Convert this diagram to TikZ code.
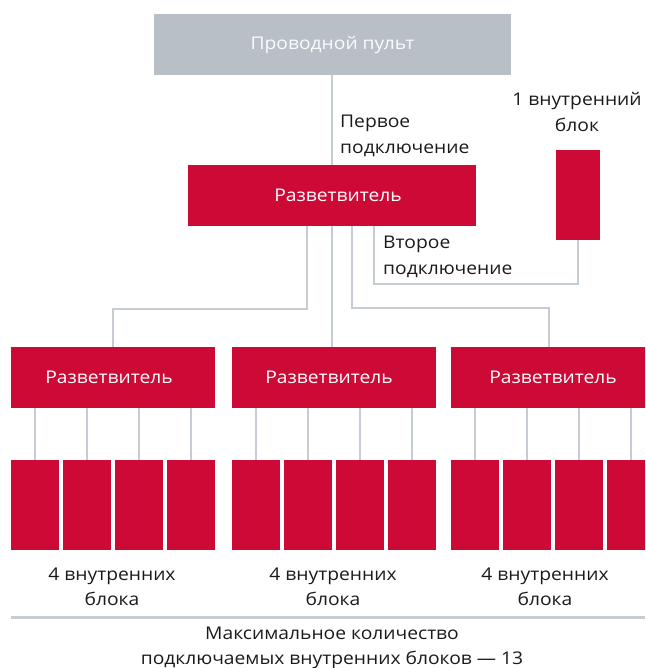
\documentclass[tikz,border=0pt]{standalone}
\usepackage{fontspec}
\setmainfont{Open Sans}[FakeStretch=1.1]
\usetikzlibrary{calc}
\definecolor{splitred}{HTML}{CC0A35}
\definecolor{boxgray}{HTML}{B8BFC7}
\definecolor{linegray}{HTML}{C5CCD3}
\definecolor{txt}{HTML}{1A1A1A}
\begin{document}
\begin{tikzpicture}[x=1pt,y=-1pt,
  lbl/.style={font=\fontsize{17.5}{25.5}\selectfont, text=txt, inner sep=0pt},
  redbox/.style={fill=splitred, draw=none, inner sep=0pt},
  splitbox/.style={redbox, minimum width=204pt, minimum height=61pt, text=white, font=\fontsize{17.5}{25.5}\selectfont},
  unitbox/.style={redbox, minimum width=48pt, minimum height=90pt},
  conn/.style={draw=linegray, line width=1.6pt}
]
\useasboundingbox (0,0) rectangle (645,668);
\clip (0,0) rectangle (645,668);

\node[minimum width=357pt, minimum height=61pt, fill=boxgray, inner sep=0pt, text=white!94!boxgray, font=\fontsize{17.5}{25.5}\selectfont] (remote) at (332.5,44.5) {Проводной пульт};
\node[redbox, minimum width=288pt, minimum height=61pt, text=white, font=\fontsize{17.5}{25.5}\selectfont] (main) at (332,195.5) {\hspace*{12pt}Разветвитель};
\node[unitbox, minimum width=44pt] (single) at (578,195) {};

\node[splitbox] (ls) at (113,377.5) {Разветвитель\hspace*{8pt}};
\node[splitbox] (ms) at (334,377.5) {Разветвитель\hspace*{10pt}};
\node[splitbox] (rs) at (553,377.5) {Разветвитель};

\foreach \g/\x in {l/11, m/232, r/451}{
  \foreach \k in {0,1,2,3}{
    \node[unitbox] (\g u\k) at ({\x+24+52*\k},505) {};
    \draw[conn] (\g u\k.north |- \g s.south) -- (\g u\k.north);
  }
}

\draw[conn] (remote.south -| main.north) -- (main.north);
\draw[conn] (main.south) ++(-25,0) -- ++(0,83) -| (ls.north);
\draw[conn] (main.south) -- (main.south |- ms.north);
\draw[conn] (main.south) ++(20,0) -- ++(0,82) -| ($(rs.north)+(-4,0)$);
\draw[conn] (main.south) ++(42,0) -- ++(0,58) -| (single.south);

% labels
\node[lbl, anchor=west, align=left] (first) at (340,136) {Первое\\подключение};
\node[lbl, anchor=west, align=left] (second) at (383,257) {Второе\\подключение};
\node[lbl, align=center] (one) at (577,112) {1 внутренний\\блок};
\node[lbl, align=center] (gl) at (112,587) {4 внутренних\\блока};
\node[lbl, align=center] (gm) at (333,587) {4 внутренних\\блока};
\node[lbl, align=center] (gr) at (545,587) {4 внутренних\\блока};

\coordinate (baseL) at (11,617);
\coordinate (baseR) at (645,617);
\draw[draw=linegray, line width=3pt] (baseL) -- (baseR);
\node[lbl, align=center] (total) at (332,648) {Максимальное количество\\подключаемых внутренних блоков — 13};
\end{tikzpicture}
\end{document}
